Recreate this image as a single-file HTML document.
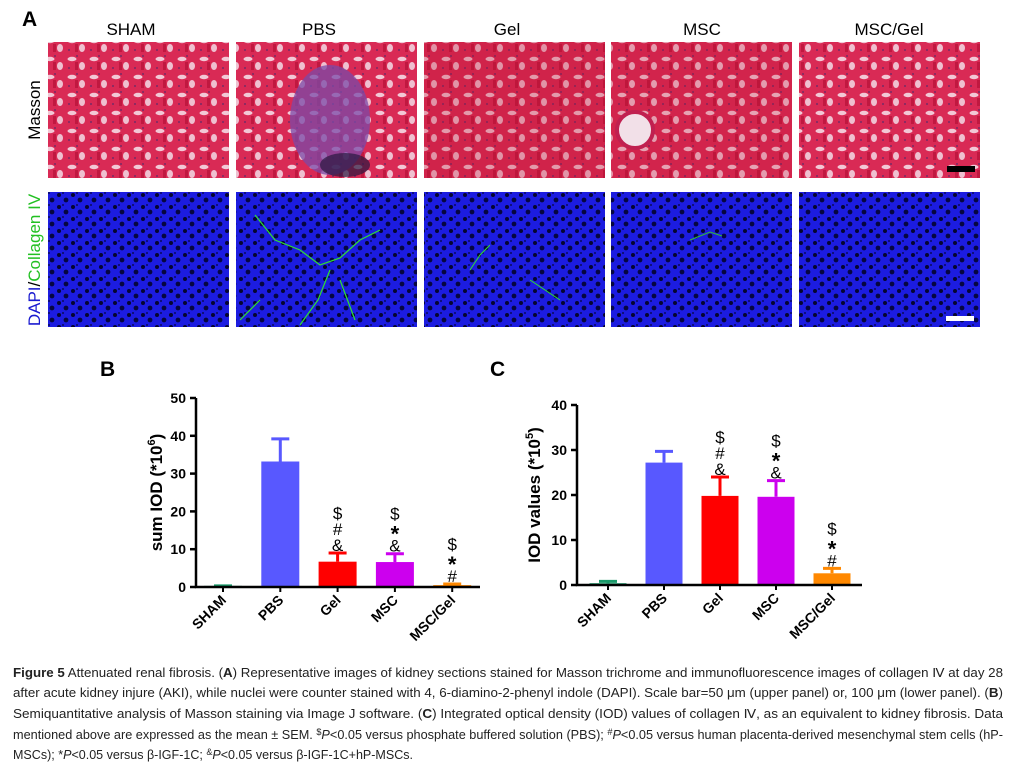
<!DOCTYPE html>
<html><head><meta charset="utf-8">
<style>
html,body{margin:0;padding:0;background:#fff;}
svg{display:block;font-family:"Liberation Sans",Arial,sans-serif;}
</style></head>
<body>
<svg id="fig" width="1009" height="776" viewBox="0 0 1009 776" xmlns="http://www.w3.org/2000/svg">
<defs>
  <pattern id="masson" width="22" height="18" patternUnits="userSpaceOnUse">
    <rect width="22" height="18" fill="#d92a55"/>
    <ellipse cx="6" cy="5" rx="4.5" ry="2.2" fill="#f2c8d6"/>
    <ellipse cx="16" cy="12" rx="3" ry="4" fill="#efc0d0"/>
    <circle cx="11" cy="2" r="0.9" fill="#5a2a6a"/>
    <circle cx="3" cy="14" r="0.9" fill="#5a2a6a"/>
    <rect x="9" y="8" width="3" height="8" fill="#c01840"/>
  </pattern>
  <pattern id="dapi" width="14" height="12" patternUnits="userSpaceOnUse">
    <rect width="14" height="12" fill="#1c1ce0"/>
    <circle cx="3" cy="3" r="2" fill="#050530"/>
    <circle cx="10" cy="8" r="2.4" fill="#060640"/>
    <circle cx="7" cy="1" r="1" fill="#0a0a60"/>
  </pattern>
</defs>

<text x="22" y="26" font-size="21" font-weight="bold">A</text>
<g font-size="17" text-anchor="middle">
  <text x="131" y="35">SHAM</text>
  <text x="319" y="35">PBS</text>
  <text x="507" y="35">Gel</text>
  <text x="702" y="35">MSC</text>
  <text x="889" y="35">MSC/Gel</text>
</g>
<text transform="translate(40,110) rotate(-90)" font-size="17" text-anchor="middle">Masson</text>
<text transform="translate(40,260) rotate(-90)" font-size="17" text-anchor="middle"><tspan fill="#1a1ad0">DAPI</tspan><tspan fill="#000">/</tspan><tspan fill="#22c022">Collagen IV</tspan></text>

<g>
  <rect x="48" y="42" width="181" height="136" fill="url(#masson)"/>
  <rect x="236" y="42" width="181" height="136" fill="url(#masson)"/>
  <ellipse cx="330" cy="120" rx="40" ry="55" fill="#7a4aa8" opacity="0.75"/>
  <ellipse cx="345" cy="165" rx="25" ry="12" fill="#2a1840" opacity="0.7"/>
  <rect x="424" y="42" width="181" height="136" fill="url(#masson)"/>
  <rect x="424" y="42" width="181" height="136" fill="#b8102a" opacity="0.25"/>
  <rect x="611" y="42" width="181" height="136" fill="url(#masson)"/>
  <rect x="611" y="42" width="181" height="136" fill="#b8102a" opacity="0.2"/>
  <circle cx="635" cy="130" r="18" fill="#f2e0e8" stroke="#c02050" stroke-width="4"/>
  <rect x="799" y="42" width="181" height="136" fill="url(#masson)"/>
  <rect x="947" y="166" width="28" height="6" fill="#000"/>
</g>
<g>
  <rect x="48" y="192" width="181" height="135" fill="url(#dapi)"/>
  <rect x="236" y="192" width="181" height="135" fill="url(#dapi)"/>
  <path d="M255,215 L275,240 L300,250 L320,265 L340,258 L360,240 L380,230 M330,270 L318,300 L300,325 M340,280 L355,320 M240,320 L260,300" stroke="#30e030" stroke-width="1.2" fill="none"/>
  <rect x="424" y="192" width="181" height="135" fill="url(#dapi)"/>
  <path d="M470,270 L480,255 L490,245 M530,280 L560,300" stroke="#30e030" stroke-width="1" fill="none"/>
  <rect x="611" y="192" width="181" height="135" fill="url(#dapi)"/>
  <path d="M690,240 L710,232 L722,236" stroke="#30c030" stroke-width="1" fill="none"/>
  <rect x="799" y="192" width="181" height="135" fill="url(#dapi)"/>
  <rect x="946" y="316" width="28" height="5" fill="#fff"/>
</g>

<g id="chartB"></g>
<g id="chartC"></g>

<g font-size="12.5" fill="#222">
  <text x="13" y="677" textLength="990" lengthAdjust="spacingAndGlyphs"><tspan font-weight="bold">Figure 5</tspan> Attenuated renal fibrosis. (<tspan font-weight="bold">A</tspan>) Representative images of kidney sections stained for Masson trichrome and immunofluorescence images of collagen Ⅳ at day 28</text>
  <text x="13" y="697" textLength="990" lengthAdjust="spacingAndGlyphs">after acute kidney injure (AKI), while nuclei were counter stained with 4, 6-diamino-2-phenyl indole (DAPI). Scale bar=50 μm (upper panel) or, 100 μm (lower panel). (<tspan font-weight="bold">B</tspan>)</text>
  <text x="13" y="718" textLength="990" lengthAdjust="spacingAndGlyphs">Semiquantitative analysis of Masson staining via Image J software. (<tspan font-weight="bold">C</tspan>) Integrated optical density (IOD) values of collagen Ⅳ, as an equivalent to kidney fibrosis. Data</text>
  <text x="13" y="739" textLength="990" lengthAdjust="spacingAndGlyphs">mentioned above are expressed as the mean ± SEM. <tspan font-size="9" dy="-4">$</tspan><tspan dy="4" font-style="italic">P</tspan>&lt;0.05 versus phosphate buffered solution (PBS); <tspan font-size="9" dy="-4">#</tspan><tspan dy="4" font-style="italic">P</tspan>&lt;0.05 versus human placenta-derived mesenchymal stem cells (hP-</text>
  <text x="13" y="759" textLength="400" lengthAdjust="spacingAndGlyphs">MSCs); *<tspan font-style="italic">P</tspan>&lt;0.05 versus β-IGF-1C; <tspan font-size="9" dy="-4">&amp;</tspan><tspan dy="4" font-style="italic">P</tspan>&lt;0.05 versus β-IGF-1C+hP-MSCs.</text>
</g>
</svg>

<script>
const categories = ["SHAM","PBS","Gel","MSC","MSC/Gel"];
const colors = ["#1a9a6a","#5858ff","#ff0000","#cc00ee","#ff8800"];
const valuesB = [0.3, 33.2, 6.7, 6.6, 0.5];
const errorsB = [0.3, 39.2, 9.0, 8.8, 0.8];
const ticksB = [0,10,20,30,40,50];
const marksB = ["", "", "$#&", "$*&", "$*#"];
const valuesC = [0.4, 27.2, 19.8, 19.6, 2.6];
const errorsC = [0.8, 29.7, 24.0, 23.2, 3.7];
const ticksC = [0,10,20,30,40];
const marksC = ["", "", "$#&", "$*&", "$*#"];

const NS = "http://www.w3.org/2000/svg";
function mk(parent, tag, attrs, text){
  const e = document.createElementNS(NS, tag);
  for (const k in attrs) e.setAttribute(k, attrs[k]);
  if (text !== undefined) e.textContent = text;
  parent.appendChild(e);
  return e;
}

function drawChart(g, cfg){
  const y = v => cfg.y0 - v / cfg.max * (cfg.y0 - cfg.yTop);
  const xc = i => cfg.x0 + cfg.firstOff + i * cfg.step;
  const lab = mk(g,"text",{x:cfg.labelX,y:cfg.labelY,"font-size":21,"font-weight":"bold"},cfg.letter);
  
  
  cfg.values.forEach((v,i)=>{
    const c = xc(i);
    const err = mk(g,"path",{d:`M${c},${y(v)} V${y(cfg.errors[i])} M${c-9},${y(cfg.errors[i])} H${c+9}`,stroke:colors[i],"stroke-width":3,fill:"none"});
    
    
    const b = mk(g,"rect",{x:c-cfg.bw/2,y:y(v),width:cfg.bw,height:cfg.y0-y(v),fill:colors[i]});
    
    
    const m = cfg.marks[i];
    for (let k=0;k<m.length;k++){
      const ch = m[m.length-1-k];
      const t = mk(g,"text",{x:c,y:y(cfg.errors[i])-2-k*16,"font-size":ch==="*"?22:17,"text-anchor":"middle","font-weight":ch==="*"?"bold":"normal"},ch);
      if(ch==="*") t.setAttribute("dy","6");
      
      
    }
    const xl = mk(g,"text",{transform:`translate(${c+4},${cfg.y0+14}) rotate(-45)`,"font-size":14,"font-weight":"bold","text-anchor":"end"},categories[i]);
    
    
    mk(g,"line",{x1:c,x2:c,y1:cfg.y0,y2:cfg.y0+5,stroke:"#000","stroke-width":2});
  });
  const ax = mk(g,"path",{d:`M${cfg.x0},${cfg.yTop} V${cfg.y0} H${cfg.xEnd}`,stroke:"#000","stroke-width":2.5,fill:"none"});
  
  
  cfg.ticks.forEach(t=>{
    mk(g,"line",{x1:cfg.x0-6,x2:cfg.x0,y1:y(t),y2:y(t),stroke:"#000","stroke-width":2.5});
    const tl = mk(g,"text",{x:cfg.x0-10,y:y(t)+5,"font-size":14,"font-weight":"bold","text-anchor":"end"},String(t));
    
    
  });
  const yt = mk(g,"text",{transform:`translate(${cfg.titleX},${(cfg.y0+cfg.yTop)/2}) rotate(-90)`,"font-size":17,"font-weight":"bold","text-anchor":"middle"});
  
  
  mk(yt,"tspan",{},cfg.title);
  mk(yt,"tspan",{"font-size":11,dy:-7},cfg.exp);
  mk(yt,"tspan",{dy:7},")");
}

drawChart(document.getElementById("chartB"),{
  letter:"B",labelX:100,labelY:376,x0:196,y0:587,yTop:398,max:50,xEnd:480,
  firstOff:27,step:57.3,bw:38,values:valuesB,errors:errorsB,ticks:ticksB,marks:marksB,
  titleX:162,title:"sum IOD (*10",exp:"6"
});
drawChart(document.getElementById("chartC"),{
  letter:"C",labelX:490,labelY:376,x0:577,y0:585,yTop:405,max:40,xEnd:862,
  firstOff:31,step:56,bw:37,values:valuesC,errors:errorsC,ticks:ticksC,marks:marksC,
  titleX:540,title:"IOD values (*10",exp:"5"
});
</script>
</body></html>
